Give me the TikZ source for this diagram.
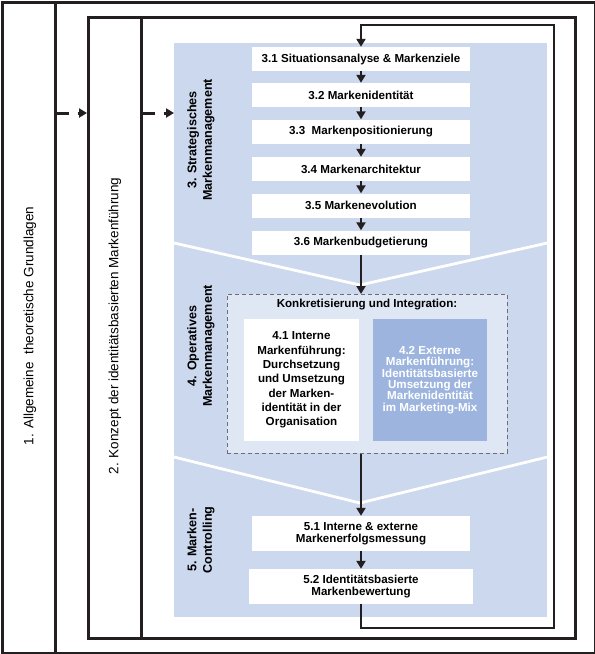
\documentclass[tikz,border=0pt]{standalone}
\usepackage{fontspec}
\setmainfont{Liberation Sans}
\usetikzlibrary{arrows.meta,calc}
\definecolor{ink}{HTML}{231F20}
\definecolor{panelblue}{HTML}{CBD8EE}
\definecolor{innerblue}{HTML}{DFE7F5}
\definecolor{darkblue}{HTML}{9DB5DE}
\definecolor{dashgray}{HTML}{6D6E71}
\begin{document}
\begin{tikzpicture}[x=1pt,y=-1pt,
  frame/.style={draw=ink, line width=2.6pt, inner sep=0pt, anchor=north west},
  stepbox/.style={fill=white, inner sep=0pt, minimum width=218pt, minimum height=24pt,
    font=\fontsize{11.6}{11.6}\selectfont\bfseries, align=center},
  flow/.style={draw=ink, line width=2.8pt, -{Triangle[width=9pt,length=8pt]}},
  dasharrow/.style={draw=ink, line width=3pt, dash pattern=on 12pt off 9pt, -{Triangle[width=9pt,length=8pt]}},
  sidelabel/.style={rotate=90, font=\fontsize{12.6}{15.5}\selectfont\bfseries, align=center},
  biglabel/.style={rotate=90, font=\fontsize{13.5}{15}\selectfont},
  vline/.style={draw=white, line width=2.8pt},
  subbox/.style={inner sep=0pt, minimum width=115pt, minimum height=122pt, align=center}
]
\useasboundingbox (0,0) rectangle (595,654);

% frames
\node[frame, minimum width=593pt, minimum height=651pt] (outer) at (1,1) {};
\node[frame, minimum width=53pt, minimum height=651pt] (col1) at (1,1) {};
\node[frame, minimum width=487pt, minimum height=621pt] (frame2) at (87,16) {};
\node[frame, minimum width=53pt, minimum height=621pt] (col2) at (87,16) {};

% blue panel
\node[fill=panelblue, inner sep=0pt, minimum width=373pt, minimum height=574pt, anchor=north west] (panel) at (174,43) {};
\draw[vline] (panel.west |- 0,243) -- (360,285) -- (panel.east |- 0,243);
\draw[vline] (panel.west |- 0,457) -- (360,503) -- (panel.east |- 0,457);

% big labels
\node[biglabel] (l1) at (30,326) {1. Allgemeine\ \ theoretische Grundlagen};
\node[biglabel] (l2) at (115,326) {2. Konzept der identitätsbasierten Markenführung};

% side labels
\node[sidelabel] (s3) at (201,140) {3. Strategisches\\Markenmanagement};
\node[sidelabel] (s4) at (201,346) {4. Operatives\\Markenmanagement};
\node[sidelabel] (s5) at (201,540) {5. Marken-\\Controlling};

% strategic steps
\node[stepbox] (b31) at (361,59) {3.1 Situationsanalyse \& Markenziele};
\node[stepbox] (b32) at (361,95) {3.2 Markenidentität};
\node[stepbox] (b33) at (361,131.5) {3.3\ \ Markenpositionierung};
\node[stepbox] (b34) at (361,169) {3.4 Markenarchitektur};
\node[stepbox] (b35) at (361,205.5) {3.5 Markenevolution};
\node[stepbox] (b36) at (361,242.5) {3.6 Markenbudgetierung};

% operative
\node[draw=dashgray, dash pattern=on 4pt off 3pt, line width=0.9pt, fill=innerblue, inner sep=0pt,
  minimum width=280pt, minimum height=159pt, anchor=north west] (konk) at (227,294) {};
\node[font=\fontsize{11.6}{13}\selectfont\bfseries] (konkt) at (367,305) {Konkretisierung und Integration:};
\node[subbox, fill=white, font=\fontsize{11.6}{14.3}\selectfont\bfseries] (b41) at (301.5,380)
  {4.1 Interne\\Markenführung:\\Durchsetzung\\und Umsetzung\\der Marken-\\identität in der\\Organisation};
\node[subbox, fill=darkblue, text=white, minimum width=114pt, font=\fontsize{11.6}{11.3}\selectfont\bfseries] (b42) at (430,380)
  {4.2 Externe\\Markenführung:\\Identitätsbasierte\\Umsetzung der\\Markenidentität\\im Marketing-Mix};

% controlling
\node[stepbox, minimum height=35pt] (b51) at (361,533.5) {5.1 Interne \& externe\\Markenerfolgsmessung};
\node[stepbox, minimum height=35pt, minimum width=224pt] (b52) at (361,586.5) {5.2 Identitätsbasierte\\Markenbewertung};

% connectors
\draw[flow] (b31) -- (b32);
\draw[flow] (b32) -- (b33);
\draw[flow] (b33) -- (b34);
\draw[flow] (b34) -- (b35);
\draw[flow] (b35) -- (b36);
\draw[flow] (b36.south) -- (b36.south |- konk.north);
\draw[flow] (b51.north |- konk.south) -- (b51.north);
\draw[flow] (b51) -- (b52);

\coordinate (loopBR) at (554,628);
\coordinate (loopTR) at (554,25);
\draw[flow] (b52.south) |- (loopBR) -- (loopTR) -| (b31.north);

\draw[dasharrow] (col1.east |- 0,113) -- (col2.west |- 0,113);
\draw[dasharrow] (col2.east |- 0,113) -- (panel.west |- 0,113);
\end{tikzpicture}
\end{document}
